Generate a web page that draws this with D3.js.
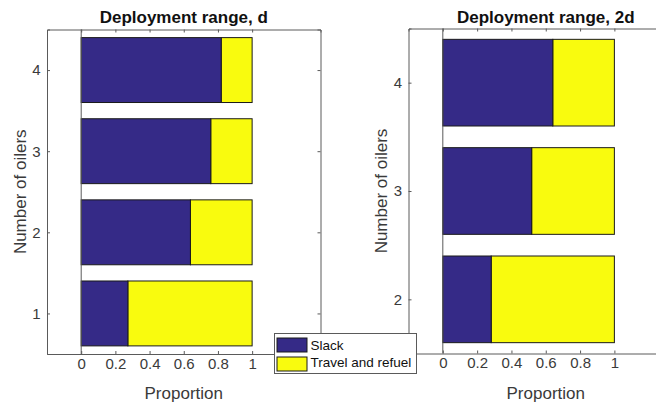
<!DOCTYPE html>
<html>
<head>
<meta charset="utf-8">
<script src="https://cdn.jsdelivr.net/npm/d3@7"></script>
<style>
  html, body { margin: 0; padding: 0; background: #fff; }
  svg { display: block; font-family: "Liberation Sans", Arial, sans-serif; }
</style>
</head>
<body>
<svg id="chart" width="656" height="405"></svg>
<script>
// Proportion of time per oiler count, split into slack vs. travel & refuel
const oilersD = [1, 2, 3, 4];
const slackD = [0.273, 0.639, 0.758, 0.819];
const oilers2D = [2, 3, 4];
const slack2D = [0.282, 0.518, 0.641];
const xTicks = [0, 0.2, 0.4, 0.6, 0.8, 1];
const seriesNames = ["Slack", "Travel and refuel"];
const seriesColors = ["#352a87", "#f9fb0e"];
const titles = ["Deployment range, d", "Deployment range, 2d"];

const svg = d3.select("#chart");
const axisColor = "#5a5a5a";
const textColor = "#3a3a3a";

function panel(cfg) {
  const x = d3.scaleLinear().domain([-0.2, 1.4]).range([cfg.left, cfg.right]);
  const y = d3.scaleLinear().domain(cfg.yDomain).range([cfg.bottom, cfg.top]);
  const g = svg.append("g");
  const barH = Math.abs(y(0.8) - y(0));

  // stacked bars: slack from 0, travel from slack to 1
  const rows = cfg.cats.map((c, i) => ({ c, s: cfg.slack[i] }));
  g.selectAll("rect.travel").data(rows).join("rect")
    .attr("x", d => x(d.s)).attr("width", d => x(1) - x(d.s))
    .attr("y", d => y(d.c + 0.4)).attr("height", barH)
    .attr("fill", seriesColors[1]).attr("stroke", "#1a1a1a").attr("stroke-width", 1);
  g.selectAll("rect.slack").data(rows).join("rect")
    .attr("x", x(0)).attr("width", d => x(d.s) - x(0))
    .attr("y", d => y(d.c + 0.4)).attr("height", barH)
    .attr("fill", seriesColors[0]).attr("stroke", "#1a1a1a").attr("stroke-width", 1);

  // baseline at x = 0
  g.append("line").attr("x1", x(0)).attr("x2", x(0))
    .attr("y1", y.range()[1]).attr("y2", y.range()[0])
    .attr("stroke", axisColor).attr("stroke-width", 1);

  // axes with inward ticks, mirrored on top / right
  const xb = g.append("g").attr("transform", `translate(0,${cfg.bottom})`)
    .call(d3.axisBottom(x).tickValues(xTicks).tickSize(-3).tickPadding(4).tickFormat(d3.format("")));
  const xt = g.append("g").attr("transform", `translate(0,${cfg.top})`)
    .call(d3.axisTop(x).tickValues(xTicks).tickSize(-3).tickFormat(""));
  const yl = g.append("g").attr("transform", `translate(${cfg.left},0)`)
    .call(d3.axisLeft(y).tickValues(cfg.cats).tickSize(-3).tickPadding(6.5).tickFormat(d3.format("d")));
  const yr = g.append("g").attr("transform", `translate(${cfg.right},0)`)
    .call(d3.axisRight(y).tickValues(cfg.cats).tickSize(-3).tickFormat(""));
  [xb, xt, yl, yr].forEach(a => {
    a.select(".domain").attr("stroke", axisColor).attr("stroke-width", 1);
    a.selectAll(".tick line").attr("stroke", axisColor);
    a.selectAll(".tick text").attr("fill", textColor)
      .style("font-size", "15px").style("font-family", "Liberation Sans, Arial, sans-serif");
  });

  const cx = (cfg.left + cfg.right) / 2;
  g.append("text").attr("x", cx).attr("y", 22.5).attr("text-anchor", "middle")
    .style("font-size", "17px").style("font-weight", "bold").attr("fill", "#111")
    .text(cfg.title);
  g.append("text").attr("x", cx).attr("y", 399).attr("text-anchor", "middle")
    .style("font-size", "17px").attr("fill", textColor).text("Proportion");
  g.append("text")
    .attr("transform", `translate(${cfg.ylabX},${(cfg.top + cfg.bottom) / 2}) rotate(-90)`)
    .attr("text-anchor", "middle").style("font-size", "17px").attr("fill", textColor)
    .text("Number of oilers");
}

panel({ left: 47, right: 320.5, top: 29.5, bottom: 354, yDomain: [0.5, 4.5],
        cats: oilersD, slack: slackD, title: titles[0], ylabX: 26 });
panel({ left: 408.5, right: 683, top: 28.5, bottom: 353.5, yDomain: [1.5, 4.5],
        cats: oilers2D, slack: slack2D, title: titles[1], ylabX: 387 });

// legend
const lg = svg.append("g").attr("transform", "translate(274.5,333.5)");
lg.append("rect").attr("width", 142).attr("height", 40)
  .attr("fill", "#fff").attr("stroke", axisColor).attr("stroke-width", 1);
seriesNames.forEach((name, i) => {
  lg.append("rect").attr("x", 2.5).attr("y", 4.5 + i * 19).attr("width", 30).attr("height", 14)
    .attr("fill", seriesColors[i]).attr("stroke", "#1a1a1a").attr("stroke-width", 1);
  lg.append("text").attr("x", 36).attr("y", 16.5 + i * 16.7)
    .style("font-size", "13.5px").attr("fill", "#111").text(name);
});
</script>
</body>
</html>
